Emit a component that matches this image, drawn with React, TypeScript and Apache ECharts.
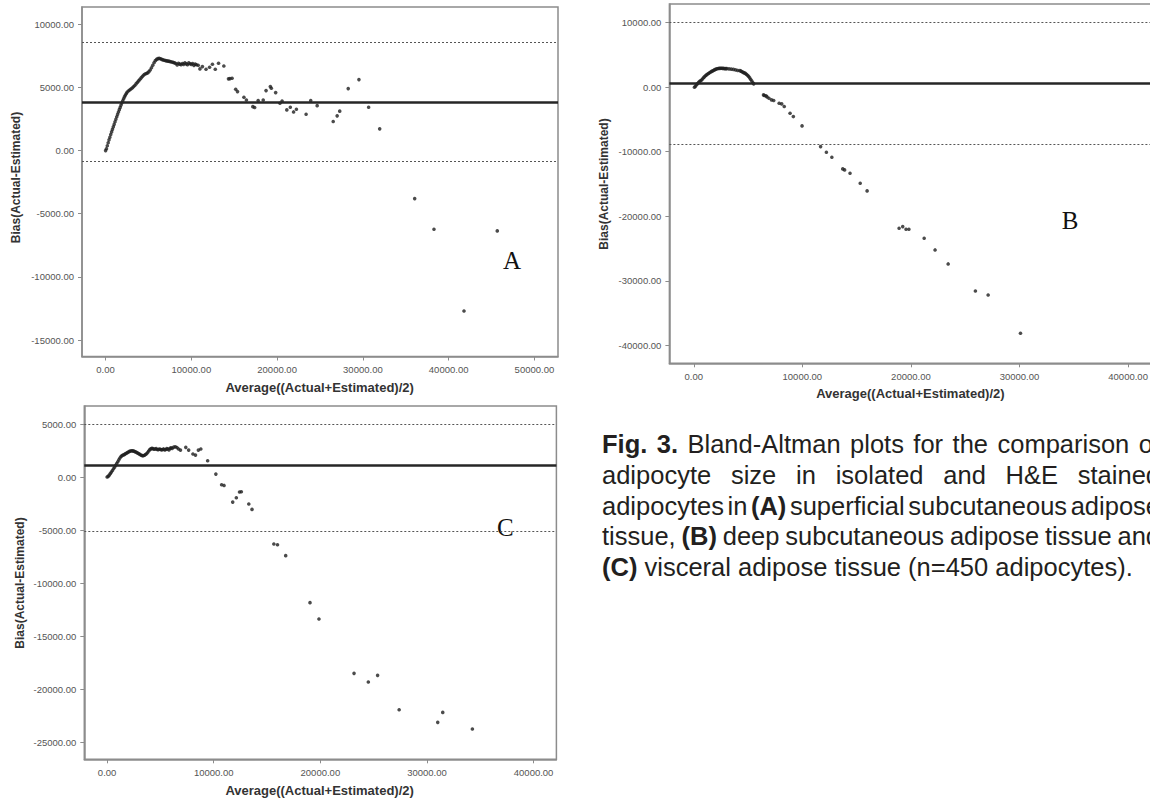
import React, { useEffect, useRef } from "react";
import * as echarts from "echarts";

// ---------- DATA ----------
const pointsA: number[][] = [
  [0, 0], [100, 150], [200, 380], [300, 620], [400, 850], [500, 1060], [600, 1270], [700, 1480],
  [800, 1680], [900, 1880], [1000, 2080], [1100, 2280], [1200, 2480], [1300, 2680], [1400, 2870],
  [1500, 3060], [1600, 3240], [1700, 3420], [1800, 3600], [1900, 3780], [2000, 3950], [2100, 4100],
  [2200, 4250], [2300, 4380], [2400, 4500], [2500, 4610], [2650, 4720], [2800, 4800], [2950, 4880],
  [3100, 4960], [3250, 5050], [3400, 5150], [3550, 5280], [3700, 5400], [3850, 5520], [4000, 5640],
  [4150, 5760], [4300, 5880], [4450, 5990], [4600, 6060], [4750, 6100], [4900, 6150], [5050, 6250],
  [5200, 6380], [5350, 6560], [5500, 6760], [5650, 6960], [5800, 7120], [5950, 7220], [6100, 7280],
  [6250, 7300], [6400, 7270], [6550, 7220], [6700, 7180], [6850, 7150], [7000, 7120], [7150, 7100],
  [7300, 7080], [7450, 7060], [7600, 7030], [7750, 7010], [7900, 6980], [8050, 6950], [8200, 6900],
  [8350, 6780], [8500, 6920], [8650, 6850], [8800, 6800], [8950, 6900], [9100, 6830], [9250, 6950],
  [9400, 6870], [9550, 6800], [9700, 6950], [9850, 6880], [10000, 6830], [10150, 6900], [10300, 6750],
  [10450, 6850], [10600, 6800], [10800, 6760], [11000, 6470], [11290, 6650], [11710, 6440],
  [12125, 6600], [12460, 6840], [12790, 6440], [13170, 6920], [13790, 6700], [14330, 5680],
  [14500, 5700], [14750, 5730], [15170, 4860], [15380, 4670], [16130, 4220], [16420, 4010],
  [17170, 3480], [17380, 3410], [17790, 3960], [18380, 4010], [18710, 4750], [19210, 5070],
  [19330, 4940], [19830, 4590], [20330, 3750], [20580, 3930], [21130, 3220], [21540, 3430],
  [21920, 3060], [22250, 3270], [23380, 2880], [23920, 3960], [24670, 3560], [26540, 2300],
  [27000, 2750], [27300, 3120], [28290, 4910], [29540, 5620], [30670, 3430], [31960, 1720],
  [36040, -3800], [38290, -6230], [41790, -12700], [45670, -6360],
];

const pointsB: number[][] = [
  [67, 0], [150, 160], [250, 400], [350, 560], [450, 760], [550, 900], [650, 1040], [750, 1160],
  [850, 1380], [950, 1560], [1050, 1730], [1150, 1880], [1250, 2000], [1350, 2120], [1450, 2240],
  [1550, 2350], [1650, 2460], [1750, 2540], [1850, 2640], [1950, 2730], [2050, 2810], [2150, 2870],
  [2250, 2900], [2350, 2920], [2450, 2930], [2550, 2940], [2650, 2920], [2750, 2910], [2850, 2890],
  [2950, 2880], [3050, 2880], [3250, 2850], [3450, 2810], [3650, 2760], [3850, 2680], [4050, 2600],
  [4250, 2580], [4350, 2500], [4450, 2400], [4550, 2300], [4650, 2220], [4750, 2150], [4850, 2000],
  [4950, 1850], [5050, 1680], [5150, 1450], [5250, 1200], [5350, 950], [5450, 700], [5520, 520],
  [6426, -1189], [6500, -1290], [6660, -1344], [6750, -1500], [6928, -1705], [7163, -1964],
  [7363, -2067], [7865, -2481], [8100, -2584], [8334, -2997], [8870, -4031], [9171, -4548],
  [9974, -5995], [11681, -9199], [12216, -10078], [12719, -10853], [13723, -12662], [13890, -12817],
  [14392, -13333], [15329, -14884], [15965, -16072], [18910, -21860], [19245, -21602],
  [19547, -22016], [19814, -22016], [21220, -23411], [22224, -25220], [23429, -27390],
  [25939, -31576], [27111, -32196], [30090, -38140],
];

const pointsC: number[][] = [
  [0, 0], [100, 60], [200, 180], [300, 320], [400, 470], [500, 620], [600, 780], [700, 930],
  [800, 1100], [900, 1280], [1000, 1440], [1100, 1620], [1200, 1790], [1300, 1940], [1400, 2020],
  [1500, 2080], [1600, 2110], [1700, 2180], [1800, 2240], [1900, 2300], [2000, 2360], [2100, 2420],
  [2200, 2460], [2300, 2480], [2400, 2470], [2500, 2440], [2600, 2400], [2700, 2360], [2800, 2300],
  [2900, 2240], [3000, 2180], [3100, 2120], [3200, 2060], [3300, 2020], [3400, 2010], [3500, 2050],
  [3600, 2120], [3700, 2200], [3800, 2320], [3900, 2460], [4000, 2580], [4100, 2660], [4200, 2700],
  [4300, 2680], [4400, 2620], [4500, 2640], [4600, 2680], [4700, 2600], [4800, 2580], [4900, 2640],
  [5000, 2620], [5100, 2560], [5200, 2600], [5300, 2650], [5400, 2560], [5500, 2600], [5600, 2680],
  [5700, 2640], [5800, 2560], [5900, 2700], [6000, 2760], [6100, 2700], [6250, 2820], [6400, 2860],
  [6550, 2780], [6700, 2650], [6880, 2540], [7380, 2800], [7650, 2540], [8050, 2170], [8290, 2070],
  [8560, 2540], [8790, 2640], [9430, 1540], [10200, 280], [10740, -720], [10970, -790],
  [11780, -2360], [12120, -1950], [12420, -1410], [12590, -1380], [13290, -2540], [13590, -3050],
  [15640, -6310], [15980, -6380], [16750, -7410], [19030, -11840], [19870, -13380], [23160, -18500],
  [24500, -19320], [25370, -18690], [27390, -21930], [31010, -23120], [31480, -22180], [34260, -23750],
];

const xTicksA = [0, 10000, 20000, 30000, 40000, 50000];
const yTicksA = [-15000, -10000, -5000, 0, 5000, 10000];
const xTicksB = [0, 10000, 20000, 30000, 40000, 50000];
const yTicksB = [-40000, -30000, -20000, -10000, 0, 10000];
const xTicksC = [0, 10000, 20000, 30000, 40000];
const yTicksC = [-25000, -20000, -15000, -10000, -5000, 0, 5000];

const meanBias = [3835, 620, 1068];
const upperLimit = [8560, 10000, 5000];
const lowerLimit = [-870, -8790, -5150];

const panelLabels = ["A", "B", "C"];
const xAxisTitle = "Average((Actual+Estimated)/2)";
const yAxisTitle = "Bias(Actual-Estimated)";

// caption: each token = [word, bold(1) / regular(0)]
const captionLine1: [string, number][] = [["Fig.", 1], ["3.", 1], ["Bland-Altman", 0], ["plots", 0], ["for", 0], ["the", 0], ["comparison", 0], ["of", 0]];
const captionLine2: [string, number][] = [["adipocyte", 0], ["size", 0], ["in", 0], ["isolated", 0], ["and", 0], ["H&E", 0], ["stained", 0]];
const captionLine3: [string, number][] = [["adipocytes", 0], ["in", 0], ["(A)", 1], ["superficial", 0], ["subcutaneous", 0], ["adipose", 0]];
const captionLine4: [string, number][] = [["tissue,", 0], ["(B)", 1], ["deep", 0], ["subcutaneous", 0], ["adipose", 0], ["tissue", 0], ["and", 0]];
const captionLine5: [string, number][] = [["(C)", 1], ["visceral", 0], ["adipose", 0], ["tissue", 0], ["(n=450", 0], ["adipocytes).", 0]];

// ---------- LAYOUT ----------
const FONT = '"Liberation Sans", Arial, Helvetica, sans-serif';
const SERIF = '"Liberation Serif", "Times New Roman", serif';
const FRAME = "#8c8c8c";

const layouts = [
  { left: 82, top: 7, width: 476, height: 349.5, xMin: -2750, xMax: 52750, yMin: -16306, yMax: 11370, yTitle: [16, 177.5], xTitle: [319.6, 387], letter: [512, 260] },
  { left: 669.4, top: 4, width: 589, height: 359.3, xMin: -2243, xMax: 52000, yMin: -42790, yMax: 12898, yTitle: [603.6, 184], xTitle: [910.4, 393], letter: [1070, 220] },
  { left: 84.3, top: 406, width: 472.1, height: 353.3, xMin: -2139, xMax: 42139, yMin: -26602, yMax: 6697, yTitle: [19.6, 583], xTitle: [319.6, 790], letter: [505.4, 527] },
];

const CAP_SIZE = 25.5;
const CAP_LEFT = 602;
const CAP_RIGHT = 1160;
const CAP_BASE0 = 452.7;
const CAP_STEP = 30.8;

function fmt(v: number) {
  return Number(v).toFixed(2);
}

function buildCaption(): any[] {
  const canvas = document.createElement("canvas");
  const ctx = canvas.getContext("2d")!;
  const measure = (t: string, b: number) => {
    ctx.font = `${b ? "bold " : ""}${CAP_SIZE}px ${FONT}`;
    return ctx.measureText(t).width;
  };
  const lines = [captionLine1, captionLine2, captionLine3, captionLine4, captionLine5];
  const out: any[] = [];
  lines.forEach((line, li) => {
    const widths = line.map(([t, b]) => measure(t, b));
    const total = widths.reduce((a, c) => a + c, 0);
    const justify = li < lines.length - 1;
    const gap = justify ? (CAP_RIGHT - CAP_LEFT - total) / (line.length - 1) : measure(" ", 0);
    let x = CAP_LEFT;
    const y = CAP_BASE0 + li * CAP_STEP - 8.8;
    line.forEach(([t, b], wi) => {
      out.push({
        type: "text",
        x,
        y,
        silent: true,
        style: {
          text: t,
          fontSize: CAP_SIZE,
          fontFamily: FONT,
          fontWeight: b ? "bold" : "normal",
          fill: "#231f20",
          align: "left",
          verticalAlign: "middle",
        },
      });
      x += widths[wi] + gap;
    });
  });
  return out;
}

export default function App() {
  const ref = useRef<HTMLDivElement>(null);

  useEffect(() => {
    if (!ref.current) return;
    const chart = echarts.init(ref.current, null, { renderer: "svg" });
    const data = [pointsA, pointsB, pointsC];
    const xTicks = [xTicksA, xTicksB, xTicksC];
    const yTicks = [yTicksA, yTicksB, yTicksC];

    const grids = layouts.map((l) => ({
      left: l.left,
      top: l.top,
      width: l.width,
      height: l.height,
      show: true,
      borderColor: FRAME,
      borderWidth: 1.5,
      backgroundColor: "rgba(0,0,0,0)",
      containLabel: false,
      outerBoundsMode: "none",
    }));

    const xAxes = layouts.map((l, i) => ({
      type: "value",
      gridIndex: i,
      min: l.xMin,
      max: l.xMax,
      splitLine: { show: false },
      axisLine: { show: true, onZero: false, lineStyle: { color: FRAME, width: 1.5 } },
      axisTick: { show: true, customValues: xTicks[i], length: 4, inside: false, lineStyle: { color: FRAME, width: 1 } },
      axisLabel: { customValues: xTicks[i], formatter: (v: number) => fmt(v), fontSize: 9.5, color: "#555", margin: 8, fontFamily: FONT },
    }));

    const yAxes = layouts.map((l, i) => ({
      type: "value",
      gridIndex: i,
      min: l.yMin,
      max: l.yMax,
      splitLine: { show: false },
      axisLine: { show: true, onZero: false, lineStyle: { color: FRAME, width: 1.5 } },
      axisTick: { show: true, customValues: yTicks[i], length: 4, inside: false, lineStyle: { color: FRAME, width: 1 } },
      axisLabel: { customValues: yTicks[i], formatter: (v: number) => fmt(v), fontSize: 9.5, color: "#555", margin: 8, fontFamily: FONT },
    }));

    const series = layouts.map((_, i) => ({
      type: "scatter",
      xAxisIndex: i,
      yAxisIndex: i,
      data: data[i],
      symbol: "circle",
      symbolSize: 3.6,
      itemStyle: { color: "#1e1e1e" },
      silent: true,
      markLine: {
        silent: true,
        symbol: ["none", "none"],
        label: { show: false },
        data: [
          { yAxis: meanBias[i], lineStyle: { color: "#262626", width: 2.5, type: "solid" } },
          { yAxis: upperLimit[i], lineStyle: { color: "#555", width: 1, type: [2, 2] } },
          { yAxis: lowerLimit[i], lineStyle: { color: "#555", width: 1, type: [2, 2] } },
        ],
      },
    }));

    const titles: any[] = [];
    layouts.forEach((l, i) => {
      titles.push({
        type: "text",
        x: l.yTitle[0],
        y: l.yTitle[1],
        rotation: Math.PI / 2,
        silent: true,
        style: { text: yAxisTitle, fontSize: 12, fontWeight: "bold", fontFamily: FONT, fill: "#333", align: "center", verticalAlign: "middle" },
      });
      titles.push({
        type: "text",
        x: l.xTitle[0],
        y: l.xTitle[1],
        silent: true,
        style: { text: xAxisTitle, fontSize: 13, fontWeight: "bold", fontFamily: FONT, fill: "#333", align: "center", verticalAlign: "middle" },
      });
      titles.push({
        type: "text",
        x: l.letter[0],
        y: l.letter[1],
        silent: true,
        style: { text: panelLabels[i], fontSize: 25, fontFamily: SERIF, fill: "#111", align: "center", verticalAlign: "middle" },
      });
    });

    chart.setOption({
      animation: false,
      backgroundColor: "#ffffff",
      grid: grids,
      xAxis: xAxes,
      yAxis: yAxes,
      series,
      graphic: { elements: [...titles, ...buildCaption()] },
    });

    return () => {
      chart.dispose();
    };
  }, []);

  return (
    <div
      ref={ref}
      style={{ position: "fixed", left: 0, top: 0, width: 1150, height: 798, background: "#fff", overflow: "hidden" }}
    />
  );
}
